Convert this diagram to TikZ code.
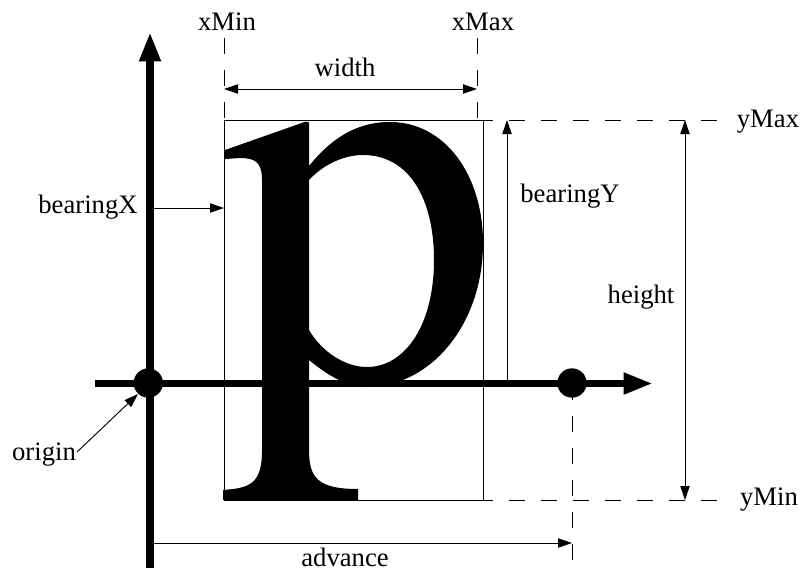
\documentclass[tikz,border=0pt]{standalone}
\usepackage{fontspec}
\setmainfont{Liberation Serif}
\usetikzlibrary{arrows.meta,positioning}

\begin{document}
\begin{tikzpicture}[
  x=0.75pt, y=-0.75pt,
  font=\fontsize{20}{24}\selectfont,
  label/.style={inner sep=0pt, anchor=base},
  axis/.style={-{Triangle[length=22pt,width=15pt]}, line width=5.7pt, draw=black},
  dot/.style={circle, fill=black, inner sep=0pt, minimum size=22pt},
  dim/.style={-{Triangle[length=10.5pt,width=7pt]}, line width=0.7pt},
  dimboth/.style={{Triangle[length=10.5pt,width=7pt]}-{Triangle[length=10.5pt,width=7pt]}, line width=0.7pt},
  guide/.style={line width=0.7pt, dash pattern=on 12pt off 12pt},
  bbox/.style={line width=0.7pt}
]
\useasboundingbox (0,0) rectangle (803,572);

\coordinate (bbNW) at (224,120);
\coordinate (bbNE) at (483,120);
\coordinate (bbSW) at (224,500);
\coordinate (bbSE) at (483,500);

\draw[bbox] (bbNW) -- (bbNE) -- (bbSE) -- (bbSW) -- cycle;

\fill[black, even odd rule]
  (225,150) -- (306,121.5) -- (309,122.5) -- (309,166)
  .. controls (330,140) and (355,122) .. (390,122)
  .. controls (445,122) and (483,175) .. (483,243)
  .. controls (483,325) and (430,387) .. (367,387)
  .. controls (345,387) and (325,373) .. (309,360)
  -- (309,450)
  .. controls (309,478) and (318,489) .. (358,489)
  -- (358,500) -- (223,500) -- (223,490)
  .. controls (250,488) and (262,484) .. (262,450)
  -- (262,180)
  .. controls (262,162) and (255,158) .. (240,158)
  -- (225,159) -- cycle
  (309,180)
  .. controls (320,168) and (340,155) .. (363,155)
  .. controls (410,155) and (434,200) .. (434,260)
  .. controls (434,325) and (405,367) .. (367,367)
  .. controls (345,367) and (322,352) .. (309,330)
  -- cycle;

\node[dot] (origin) at (148.3,383) {};
\node[dot] (pen) at (572,383) {};

\coordinate (axisL) at (95,383.5);
\coordinate (axisR) at (653,383.5);
\coordinate (axisB) at (150,568);
\coordinate (axisT) at (150,32);
\draw[axis] (axisL) -- (axisR);
\draw[axis] (axisB) -- (axisT);

\node[label] (xmin) at (227,30) {xMin};
\node[label] (xmax) at (483,30) {xMax};
\node[label] (width) at (345,76) {width};
\node[label] (ymax) at (768,127) {yMax};
\node[label] (ymin) at (769,505) {yMin};
\node[label] (bearingx) at (88,213) {bearingX};
\node[label] (bearingy) at (570,202) {bearingY};
\node[label] (height) at (641,303) {height};
\node[label] (originlab) at (44,460) {origin};
\node[label] (advance) at (345,566) {advance};

\coordinate (xminT) at (224,38);
\coordinate (xmaxT) at (477,38);
\coordinate (xmaxB) at (477,120);
\coordinate (ymaxL) at (477,120);
\coordinate (ymaxR) at (720,120);
\coordinate (yminL) at (477,500);
\coordinate (yminR) at (720,500);
\coordinate (advT) at (572,384);
\coordinate (advB) at (572,560);

\draw[guide] (xminT) -- (bbNW);
\draw[guide] (xmaxT) -- (xmaxB);
\draw[guide] (ymaxL) -- (ymaxR);
\draw[guide] (yminL) -- (yminR);
\draw[guide] (advT) -- (advB);

\coordinate (widthL) at (224,89);
\coordinate (widthR) at (477,89);
\draw[dimboth] (widthL) -- (widthR);

\coordinate (heightT) at (685,120);
\coordinate (heightB) at (685,500);
\draw[dimboth] (heightT) -- (heightB);

\coordinate (byB) at (507,383);
\coordinate (byT) at (507,120);
\draw[dim] (byB) -- (byT);

\coordinate (bxL) at (152,208);
\coordinate (bxR) at (224,208);
\draw[dim] (bxL) -- (bxR);

\coordinate (advL) at (152,543);
\coordinate (advR) at (572,543);
\draw[dim] (advL) -- (advR);

\coordinate (origS) at (77,452);
\coordinate (origE) at (138,394);
\draw[dim] (origS) -- (origE);

\end{tikzpicture}
\end{document}
